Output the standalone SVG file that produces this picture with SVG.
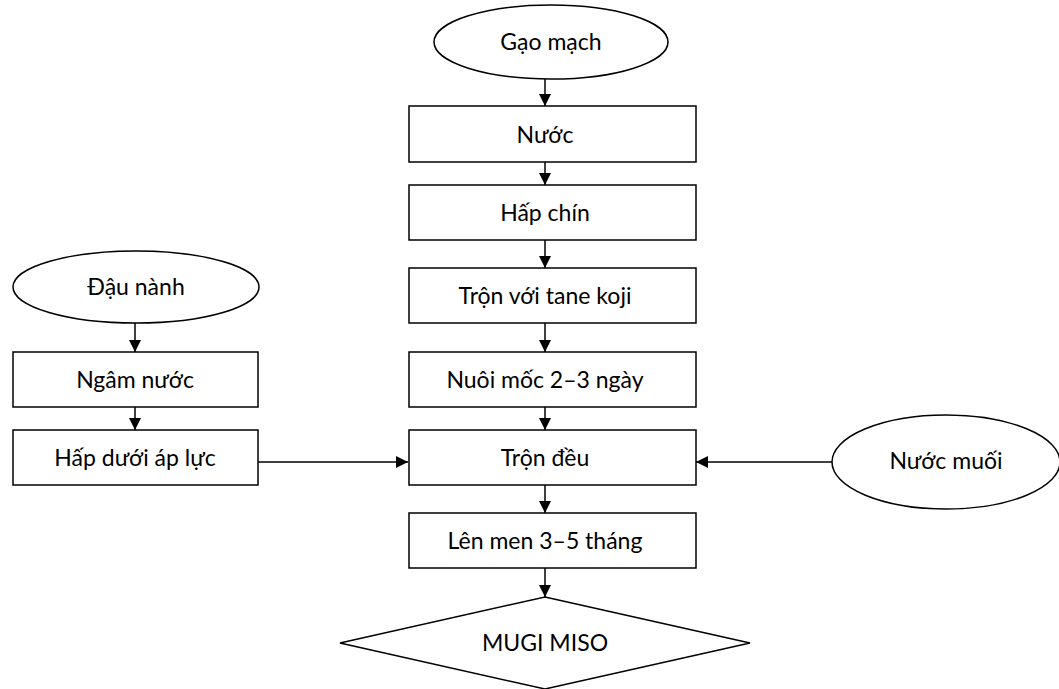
<svg xmlns="http://www.w3.org/2000/svg" width="1059" height="689" viewBox="0 0 1059 689">
  <style>
    .shape { fill: #ffffff; stroke: #000000; stroke-width: 1.5; }
    .label { font-family: Lato, "Open Sans", "Liberation Sans", sans-serif; font-size: 23px; fill: #000000; text-anchor: middle; }
    .edge { fill: none; stroke: #000000; stroke-width: 1.5; marker-end: url(#arrow); }
  </style>
  <defs>
    <marker id="arrow" viewBox="0 0 12 12" refX="12" refY="6" markerWidth="12" markerHeight="12" markerUnits="userSpaceOnUse" orient="auto">
      <path d="M0,0 L12,6 L0,12 Z" fill="#000000"/>
    </marker>
  </defs>
  <rect width="1059" height="689" fill="#ffffff"/>

  <!-- connectors -->
  <g id="connectors">
    <line class="edge" x1="545" y1="79" x2="545" y2="106"/>
    <line class="edge" x1="545" y1="153" x2="545" y2="185"/>
    <line class="edge" x1="545" y1="237" x2="545" y2="268"/>
    <line class="edge" x1="545" y1="319" x2="545" y2="352"/>
    <line class="edge" x1="545" y1="398" x2="545" y2="430"/>
    <line class="edge" x1="545" y1="481" x2="545" y2="513"/>
    <line class="edge" x1="545" y1="559" x2="545" y2="597"/>
    <line class="edge" x1="135" y1="318" x2="135" y2="352"/>
    <line class="edge" x1="135" y1="398" x2="135" y2="430"/>
    <line class="edge" x1="258" y1="462" x2="408" y2="462"/>
    <line class="edge" x1="832" y1="462" x2="696" y2="462"/>
  </g>

  <!-- main column -->
  <g id="gao-mach">
    <ellipse class="shape" cx="551" cy="42" rx="117" ry="37"/>
    <text class="label" x="551" y="50">Gạo mạch</text>
  </g>
  <g id="nuoc">
    <rect class="shape" x="409" y="106" width="287" height="56"/>
    <text class="label" x="545" y="143">Nước</text>
  </g>
  <g id="hap-chin">
    <rect class="shape" x="409" y="185" width="287" height="55"/>
    <text class="label" x="545" y="221">Hấp chín</text>
  </g>
  <g id="tron-tane-koji">
    <rect class="shape" x="409" y="268" width="287" height="55"/>
    <text class="label" x="545" y="304">Trộn với tane koji</text>
  </g>
  <g id="nuoi-moc">
    <rect class="shape" x="409" y="352" width="287" height="55"/>
    <text class="label" x="545" y="388">Nuôi mốc 2–3 ngày</text>
  </g>
  <g id="tron-deu">
    <rect class="shape" x="409" y="430" width="287" height="55"/>
    <text class="label" x="545" y="466">Trộn đều</text>
  </g>
  <g id="len-men">
    <rect class="shape" x="409" y="513" width="287" height="55"/>
    <text class="label" x="545" y="549">Lên men 3–5 tháng</text>
  </g>
  <g id="mugi-miso">
    <polygon class="shape" points="545,597 750,643 545,689 340,643"/>
    <text class="label" x="545" y="651">MUGI MISO</text>
  </g>

  <!-- soybean column -->
  <g id="dau-nanh">
    <ellipse class="shape" cx="136" cy="287" rx="123" ry="36"/>
    <text class="label" x="136" y="295">Đậu nành</text>
  </g>
  <g id="ngam-nuoc">
    <rect class="shape" x="13" y="352" width="245" height="55"/>
    <text class="label" x="135" y="388">Ngâm nước</text>
  </g>
  <g id="hap-ap-luc">
    <rect class="shape" x="13" y="430" width="245" height="55"/>
    <text class="label" x="135" y="466">Hấp dưới áp lực</text>
  </g>

  <!-- brine -->
  <g id="nuoc-muoi">
    <ellipse class="shape" cx="946" cy="462" rx="114" ry="47"/>
    <text class="label" x="946" y="469">Nước muối</text>
  </g>
</svg>
